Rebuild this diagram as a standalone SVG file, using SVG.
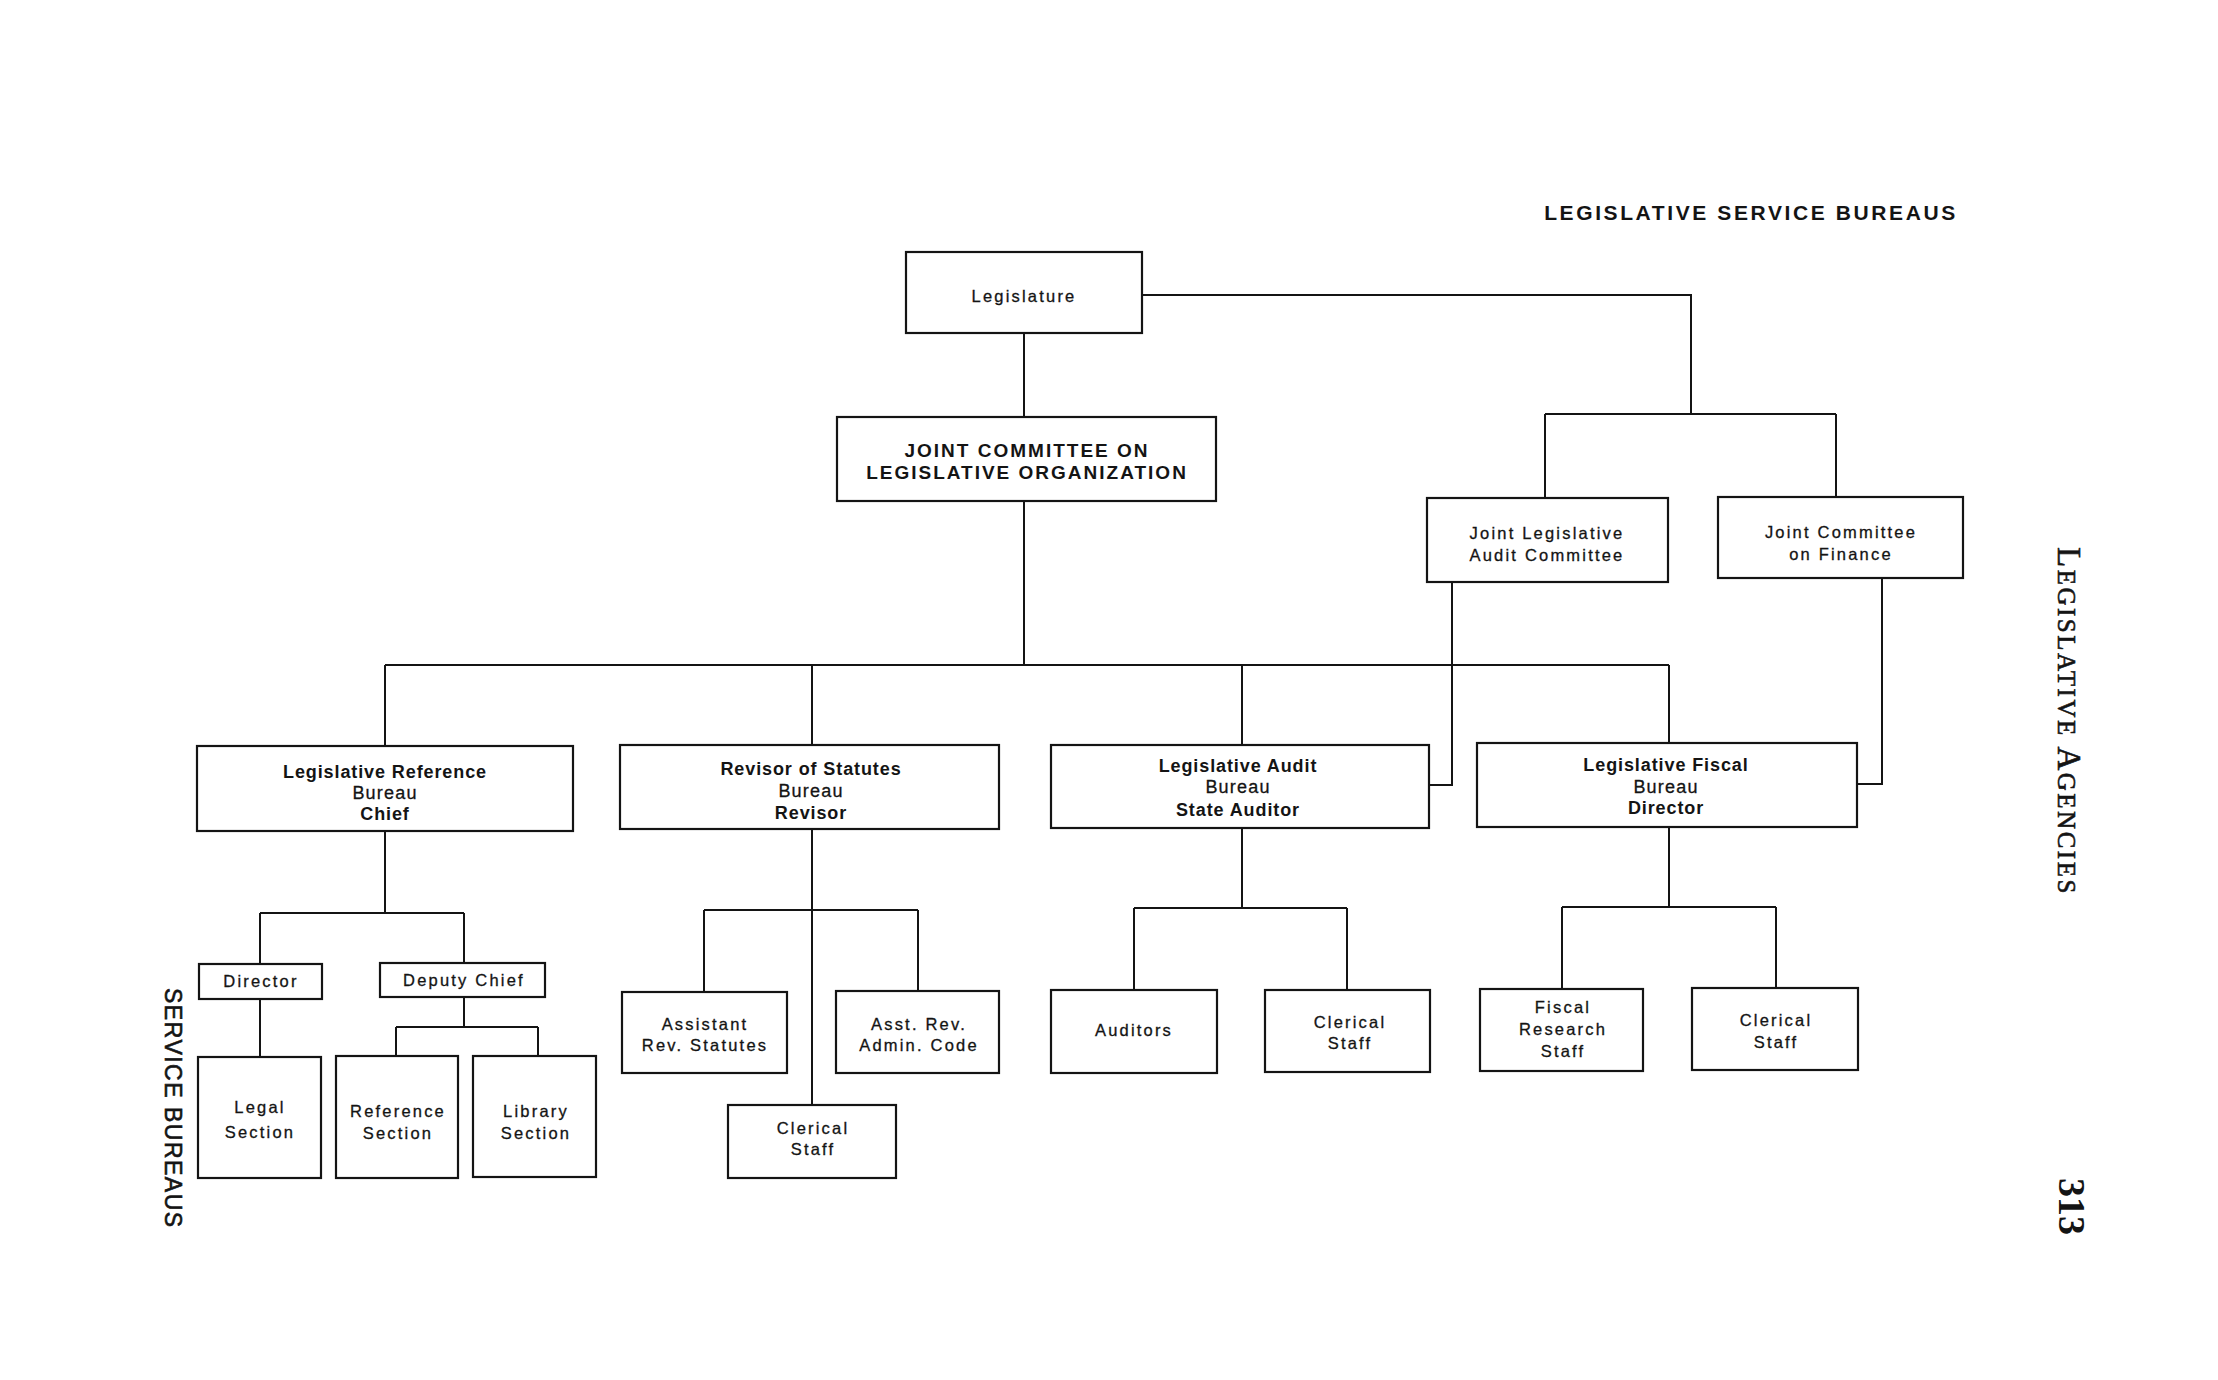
<svg xmlns="http://www.w3.org/2000/svg" width="2218" height="1380" viewBox="0 0 2218 1380">
<defs>
<style>
.bg{fill:#ffffff}
.box{fill:none;stroke:#141414;stroke-width:2.2}
.ln{fill:none;stroke:#141414;stroke-width:2}
text{font-family:"Liberation Sans",Arial,Helvetica,sans-serif;fill:#141414;text-anchor:middle}
.sm{font-size:16.5px;letter-spacing:2.2px;stroke:#141414;stroke-width:0.3px}
.bb{font-size:18px;font-weight:bold;letter-spacing:0.9px}
.br{font-size:18px;letter-spacing:1.2px;stroke:#141414;stroke-width:0.3px}
.hd{font-size:19px;font-weight:bold;letter-spacing:2px}
.title{font-size:21px;font-weight:bold;letter-spacing:2.6px}
.side{font-size:23px;letter-spacing:1.5px;text-anchor:start;stroke:#141414;stroke-width:0.6px}
.serif{font-family:"Liberation Serif","Times New Roman",serif;text-anchor:start}
</style>
</defs>
<rect class="bg" x="0" y="0" width="2218" height="1380"/>

<g id="connectors">
<path class="ln" d="M1024 333 V417"/>
<path class="ln" d="M1142 295 H1691 V414"/>
<path class="ln" d="M1545 414 H1836"/>
<path class="ln" d="M1545 414 V498"/>
<path class="ln" d="M1836 414 V497"/>
<path class="ln" d="M1024 501 V665"/>
<path class="ln" d="M385 665 H1669"/>
<path class="ln" d="M385 665 V746"/>
<path class="ln" d="M812 665 V745"/>
<path class="ln" d="M1242 665 V745"/>
<path class="ln" d="M1669 665 V743"/>
<path class="ln" d="M1452 582 V785 H1429"/>
<path class="ln" d="M1882 578 V784 H1857"/>
<path class="ln" d="M385 831 V913"/>
<path class="ln" d="M260 913 H464"/>
<path class="ln" d="M260 913 V964"/>
<path class="ln" d="M464 913 V963"/>
<path class="ln" d="M260 999 V1057"/>
<path class="ln" d="M464 997 V1027"/>
<path class="ln" d="M396 1027 H538"/>
<path class="ln" d="M396 1027 V1056"/>
<path class="ln" d="M538 1027 V1056"/>
<path class="ln" d="M812 829 V1105"/>
<path class="ln" d="M704 910 H918"/>
<path class="ln" d="M704 910 V992"/>
<path class="ln" d="M918 910 V991"/>
<path class="ln" d="M1242 828 V908"/>
<path class="ln" d="M1134 908 H1347"/>
<path class="ln" d="M1134 908 V990"/>
<path class="ln" d="M1347 908 V990"/>
<path class="ln" d="M1669 827 V907"/>
<path class="ln" d="M1562 907 H1776"/>
<path class="ln" d="M1562 907 V989"/>
<path class="ln" d="M1776 907 V988"/>
</g>

<text class="title" x="1751" y="220">LEGISLATIVE SERVICE BUREAUS</text>

<g id="legislature">
<rect class="box" x="906" y="252" width="236" height="81"/>
<text class="sm" x="1024" y="302">Legislature</text>
</g>

<g id="jclo">
<rect class="box" x="837" y="417" width="379" height="84"/>
<text class="hd" x="1027" y="457">JOINT COMMITTEE ON</text>
<text class="hd" x="1027" y="479">LEGISLATIVE ORGANIZATION</text>
</g>

<g id="jlac">
<rect class="box" x="1427" y="498" width="241" height="84"/>
<text class="sm" x="1547" y="539">Joint Legislative</text>
<text class="sm" x="1547" y="561">Audit Committee</text>
</g>

<g id="jcf">
<rect class="box" x="1718" y="497" width="245" height="81"/>
<text class="sm" x="1841" y="538">Joint Committee</text>
<text class="sm" x="1841" y="560">on Finance</text>
</g>

<g id="lrb">
<rect class="box" x="197" y="746" width="376" height="85"/>
<text class="bb" x="385" y="778">Legislative Reference</text>
<text class="br" x="385" y="799">Bureau</text>
<text class="bb" x="385" y="820">Chief</text>
</g>

<g id="ros">
<rect class="box" x="620" y="745" width="379" height="84"/>
<text class="bb" x="811" y="775">Revisor of Statutes</text>
<text class="br" x="811" y="797">Bureau</text>
<text class="bb" x="811" y="819">Revisor</text>
</g>

<g id="lab">
<rect class="box" x="1051" y="745" width="378" height="83"/>
<text class="bb" x="1238" y="772">Legislative Audit</text>
<text class="br" x="1238" y="793">Bureau</text>
<text class="bb" x="1238" y="816">State Auditor</text>
</g>

<g id="lfb">
<rect class="box" x="1477" y="743" width="380" height="84"/>
<text class="bb" x="1666" y="771">Legislative Fiscal</text>
<text class="br" x="1666" y="793">Bureau</text>
<text class="bb" x="1666" y="814">Director</text>
</g>

<g id="director">
<rect class="box" x="199" y="964" width="123" height="35"/>
<text class="sm" x="261" y="987">Director</text>
</g>

<g id="deputy-chief">
<rect class="box" x="380" y="963" width="165" height="34"/>
<text class="sm" x="464" y="986">Deputy Chief</text>
</g>

<g id="legal-section">
<rect class="box" x="198" y="1057" width="123" height="121"/>
<text class="sm" x="260" y="1113">Legal</text>
<text class="sm" x="260" y="1138">Section</text>
</g>

<g id="reference-section">
<rect class="box" x="336" y="1056" width="122" height="122"/>
<text class="sm" x="398" y="1117">Reference</text>
<text class="sm" x="398" y="1139">Section</text>
</g>

<g id="library-section">
<rect class="box" x="473" y="1056" width="123" height="121"/>
<text class="sm" x="536" y="1117">Library</text>
<text class="sm" x="536" y="1139">Section</text>
</g>

<g id="assistant-rev-statutes">
<rect class="box" x="622" y="992" width="165" height="81"/>
<text class="sm" x="705" y="1030">Assistant</text>
<text class="sm" x="705" y="1051">Rev. Statutes</text>
</g>

<g id="asst-rev-admin-code">
<rect class="box" x="836" y="991" width="163" height="82"/>
<text class="sm" x="919" y="1030">Asst. Rev.</text>
<text class="sm" x="919" y="1051">Admin. Code</text>
</g>

<g id="clerical-ros">
<rect class="box" x="728" y="1105" width="168" height="73"/>
<text class="sm" x="813" y="1134">Clerical</text>
<text class="sm" x="813" y="1155">Staff</text>
</g>

<g id="auditors">
<rect class="box" x="1051" y="990" width="166" height="83"/>
<text class="sm" x="1134" y="1036">Auditors</text>
</g>

<g id="clerical-lab">
<rect class="box" x="1265" y="990" width="165" height="82"/>
<text class="sm" x="1350" y="1028">Clerical</text>
<text class="sm" x="1350" y="1049">Staff</text>
</g>

<g id="fiscal-research">
<rect class="box" x="1480" y="989" width="163" height="82"/>
<text class="sm" x="1563" y="1013">Fiscal</text>
<text class="sm" x="1563" y="1035">Research</text>
<text class="sm" x="1563" y="1057">Staff</text>
</g>

<g id="clerical-lfb">
<rect class="box" x="1692" y="988" width="166" height="82"/>
<text class="sm" x="1776" y="1026">Clerical</text>
<text class="sm" x="1776" y="1048">Staff</text>
</g>

<text class="side" transform="translate(165,988) rotate(90)">SERVICE BUREAUS</text>
<text class="serif" transform="translate(2058,547) rotate(90)" style="letter-spacing:2.5px;stroke:#141414;stroke-width:0.6px"><tspan font-size="33">L</tspan><tspan font-size="25">EGISLATIVE </tspan><tspan font-size="33">A</tspan><tspan font-size="25">GENCIES</tspan></text>
<text class="serif" transform="translate(2059,1178) rotate(90)" style="font-size:38px;font-weight:bold">313</text>
</svg>
